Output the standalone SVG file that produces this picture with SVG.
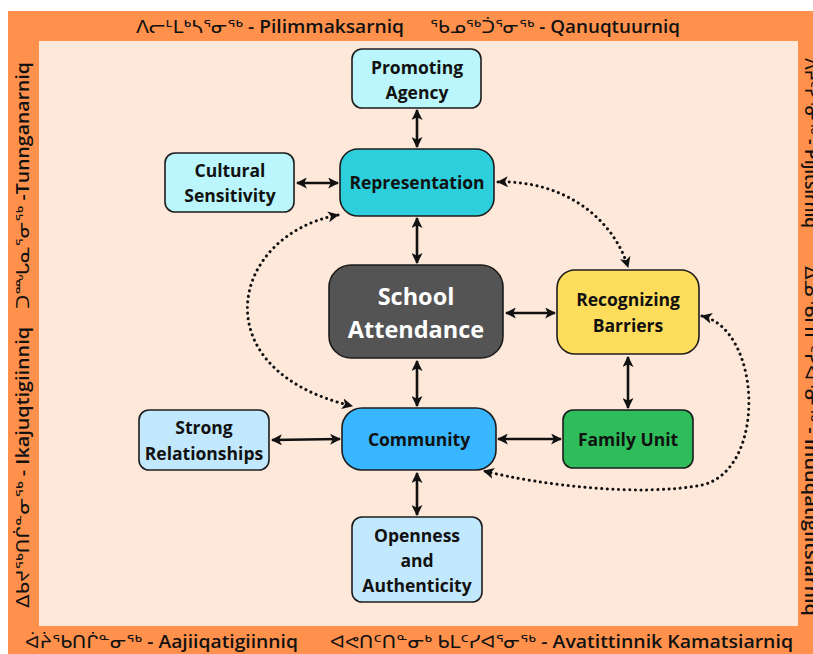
<svg xmlns="http://www.w3.org/2000/svg" width="813" height="654" viewBox="0 0 813 654">
<style>
.node{stroke:#1c1c1c;stroke-width:1.6}
.t{font-family:"Open Sans","DejaVu Sans",sans-serif;font-weight:700;font-size:17.5px;fill:#111;text-anchor:middle}
.big{font-size:23.5px;fill:#fff}
.b{font-family:"Open Sans","DejaVu Sans",sans-serif;font-weight:500;font-size:18px;fill:#111}
.l{font-weight:600}
.solid{fill:none;stroke:#111;stroke-width:2.6;marker-start:url(#ah);marker-end:url(#ah)}
.dot{fill:none;stroke:#111;stroke-width:3;stroke-dasharray:0.1 5.5;stroke-linecap:round;marker-start:url(#ah);marker-end:url(#ah)}
</style>
<defs>
<marker id="ah" viewBox="0 0 10 10" refX="9" refY="5" markerWidth="11" markerHeight="11" markerUnits="userSpaceOnUse" orient="auto-start-reverse">
<path d="M0,0 L10,5 L0,10 L2.5,5 z" fill="#111"/>
</marker>
</defs>
<rect x="0" y="0" width="813" height="654" fill="#ffffff"/>
<rect x="8" y="11" width="805" height="643" fill="#ff914d"/>
<rect x="39" y="41" width="759" height="585" fill="#fee8da"/>

<g id="border-text">
<text class="b" x="136" y="33" textLength="268" lengthAdjust="spacingAndGlyphs">ᐱᓕᒻᒪᒃᓴᕐᓂᖅ<tspan class="l"> - Pilimmaksarniq</tspan></text>
<text class="b" x="430" y="33" textLength="250" lengthAdjust="spacingAndGlyphs">ᖃᓄᖅᑑᕐᓂᖅ<tspan class="l"> - Qanuqtuurniq</tspan></text>
<text class="b" x="25" y="648" textLength="273" lengthAdjust="spacingAndGlyphs">ᐋᔩᖃᑎᒌᓐᓂᖅ<tspan class="l"> - Aajiiqatigiinniq</tspan></text>
<text class="b" x="330" y="648" textLength="463" lengthAdjust="spacingAndGlyphs">ᐊᕙᑎᑦᑎᓐᓂᒃ ᑲᒪᑦᓯᐊᕐᓂᖅ<tspan class="l"> - Avatittinnik Kamatsiarniq</tspan></text>
<text class="b" transform="translate(29,608) rotate(-90)" x="0" y="0" textLength="281" lengthAdjust="spacingAndGlyphs">ᐃᑲᔪᖅᑎᒌᓐᓂᖅ<tspan class="l"> - Ikajuqtigiinniq</tspan></text>
<text class="b" transform="translate(29,309) rotate(-90)" x="0" y="0" textLength="247" lengthAdjust="spacingAndGlyphs">ᑐᙵᓇᕐᓂᖅ<tspan class="l"> -Tunnganarniq</tspan></text>
<text class="b" transform="translate(805,58) rotate(90)" x="0" y="0" textLength="170" lengthAdjust="spacingAndGlyphs">ᐱᔨᑦᓯᕐᓂᖅ<tspan class="l"> - Pijitsirniq</tspan></text>
<text class="b" transform="translate(805,266) rotate(90)" x="0" y="0" textLength="350" lengthAdjust="spacingAndGlyphs">ᐃᓅᖃᑎᒌᑦᓯᐊᕐᓂᖅ<tspan class="l"> - Inuuqatigiitsiarniq</tspan></text>
</g>

<g id="connectors">
<path class="solid" d="M417 110 L417 147"/>
<path class="solid" d="M297 183 L338 183"/>
<path class="solid" d="M417 218 L417 263"/>
<path class="solid" d="M506 313 L555 313"/>
<path class="solid" d="M417 361 L417 406"/>
<path class="solid" d="M272 440 L340 439"/>
<path class="solid" d="M498 439 L561 439"/>
<path class="solid" d="M628 357 L628 408"/>
<path class="solid" d="M417 473 L417 515"/>
<path class="dot" d="M498 182 C560 180 612 215 628 267"/>
<path class="dot" d="M338 215 C230 235 200 370 352 406"/>
<path class="dot" d="M702 316 C762 330 767 470 702 485 C640 497 540 485 484 471"/>
</g>

<g id="promoting-agency">
<rect class="node" x="352" y="49" width="129" height="59" rx="10" fill="#baf6fb"/>
<text class="t" x="417" y="74">Promoting</text>
<text class="t" x="417" y="99">Agency</text>
</g>
<g id="representation">
<rect class="node" x="340" y="149" width="154" height="67" rx="18" fill="#2ecfdc"/>
<text class="t" x="417" y="189">Representation</text>
</g>
<g id="cultural-sensitivity">
<rect class="node" x="165" y="153" width="129" height="59" rx="10" fill="#baf6fb"/>
<text class="t" x="230" y="177">Cultural</text>
<text class="t" x="230" y="202">Sensitivity</text>
</g>
<g id="school-attendance">
<rect class="node" x="329" y="265" width="174" height="93" rx="22" fill="#545454"/>
<text class="t big" x="416" y="305">School</text>
<text class="t big" x="416" y="338">Attendance</text>
</g>
<g id="recognizing-barriers">
<rect class="node" x="557" y="270" width="142" height="84" rx="18" fill="#fedd5c"/>
<text class="t" x="628" y="306">Recognizing</text>
<text class="t" x="628" y="332">Barriers</text>
</g>
<g id="community">
<rect class="node" x="342" y="408" width="154" height="62" rx="20" fill="#38b6ff"/>
<text class="t" x="419" y="446">Community</text>
</g>
<g id="strong-relationships">
<rect class="node" x="139" y="410" width="130" height="60" rx="10" fill="#c2e8fe"/>
<text class="t" x="204" y="434">Strong</text>
<text class="t" x="204" y="460">Relationships</text>
</g>
<g id="family-unit">
<rect class="node" x="563" y="410" width="130" height="58" rx="10" fill="#2ebd5a"/>
<text class="t" x="628" y="446">Family Unit</text>
</g>
<g id="openness-authenticity">
<rect class="node" x="352" y="517" width="130" height="85" rx="10" fill="#c2e8fe"/>
<text class="t" x="417" y="542">Openness</text>
<text class="t" x="417" y="567">and</text>
<text class="t" x="417" y="592">Authenticity</text>
</g>
</svg>
